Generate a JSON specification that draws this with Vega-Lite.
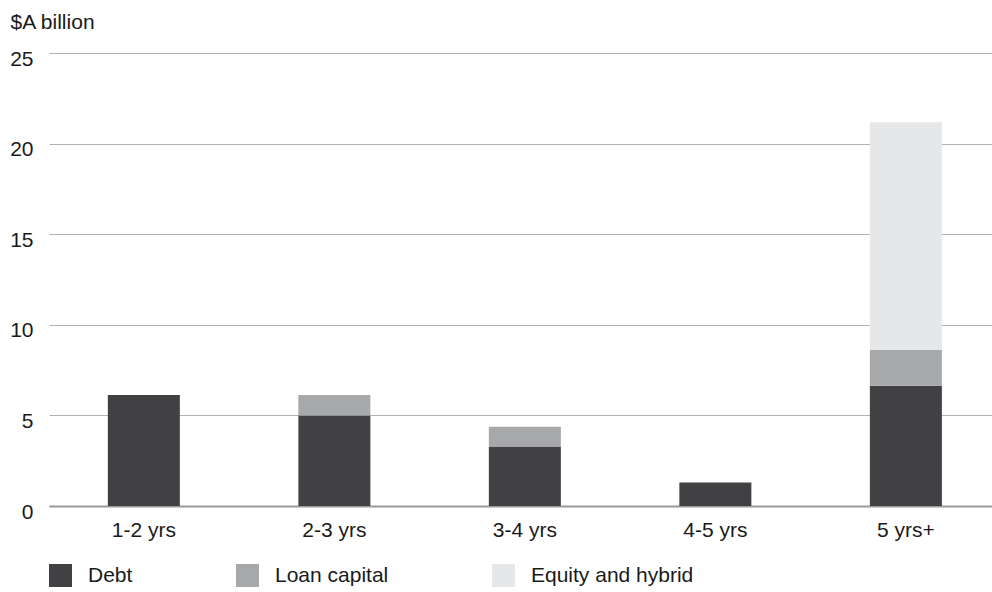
{
  "$schema": "https://vega.github.io/schema/vega-lite/v6.json",
  "width": 943,
  "height": 453,
  "autosize": "none",
  "padding": {"left": 49, "top": 53, "right": 0, "bottom": 86},
  "background": "white",
  "config": {
    "view": {"stroke": null},
    "font": "Liberation Sans",
    "axis": {"labelFont": "Liberation Sans", "titleFont": "Liberation Sans", "labelColor": "#1a1a1a", "titleColor": "#1a1a1a"}
  },
  "data": {
    "values": [
      {"term": "1-2 yrs", "type": "Debt", "value": 6.12},
      {"term": "2-3 yrs", "type": "Debt", "value": 5.0},
      {"term": "2-3 yrs", "type": "Loan capital", "value": 1.12},
      {"term": "3-4 yrs", "type": "Debt", "value": 3.28},
      {"term": "3-4 yrs", "type": "Loan capital", "value": 1.1},
      {"term": "4-5 yrs", "type": "Debt", "value": 1.3},
      {"term": "5 yrs+", "type": "Debt", "value": 6.63},
      {"term": "5 yrs+", "type": "Loan capital", "value": 1.99},
      {"term": "5 yrs+", "type": "Equity and hybrid", "value": 12.56}
    ]
  },
  "transform": [
    {"calculate": "indexof(['Debt', 'Loan capital', 'Equity and hybrid'], datum.type)", "as": "stack_rank"}
  ],
  "mark": {"type": "bar"},
  "encoding": {
    "x": {
      "field": "term",
      "type": "nominal",
      "sort": ["1-2 yrs", "2-3 yrs", "3-4 yrs", "4-5 yrs", "5 yrs+"],
      "scale": {"paddingInner": 0.622, "paddingOuter": 0.286, "align": 0.54},
      "axis": {
        "title": null,
        "labelAngle": 0,
        "labelFontSize": 21,
        "labelPadding": 13,
        "ticks": false,
        "grid": false,
        "domainColor": "#9a9a9a",
        "domainWidth": 2
      }
    },
    "y": {
      "field": "value",
      "type": "quantitative",
      "stack": "zero",
      "scale": {"domain": [0, 25], "nice": false},
      "axis": {
        "title": "$A billion",
        "titleAngle": 0,
        "titleAlign": "left",
        "titleBaseline": "alphabetic",
        "titleX": -39,
        "titleY": -25,
        "titleFontSize": 21,
        "titleFontWeight": "normal",
        "values": [0, 5, 10, 15, 20, 25],
        "labelFontSize": 21,
        "labelPadding": 16,
        "labelOffset": 6,
        "ticks": false,
        "domain": false,
        "gridColor": "#b3b3b3",
        "gridWidth": 1
      }
    },
    "order": {"field": "stack_rank", "type": "quantitative", "sort": "ascending"},
    "color": {
      "field": "type",
      "type": "nominal",
      "sort": ["Debt", "Loan capital", "Equity and hybrid"],
      "scale": {
        "domain": ["Debt", "Loan capital", "Equity and hybrid"],
        "range": ["#414143", "#a7a8aa", "#e6e7e8"]
      },
      "legend": {
        "title": null,
        "orient": "none",
        "direction": "horizontal",
        "legendX": 0,
        "legendY": 511,
        "padding": 0,
        "symbolType": "square",
        "symbolSize": 529,
        "symbolStrokeWidth": 0,
        "symbolOpacity": 1,
        "labelFont": "Liberation Sans",
        "labelFontSize": 21,
        "labelColor": "#1a1a1a",
        "labelOffset": 16,
        "labelLimit": 400,
        "columnPadding": 103
      }
    }
  }
}
